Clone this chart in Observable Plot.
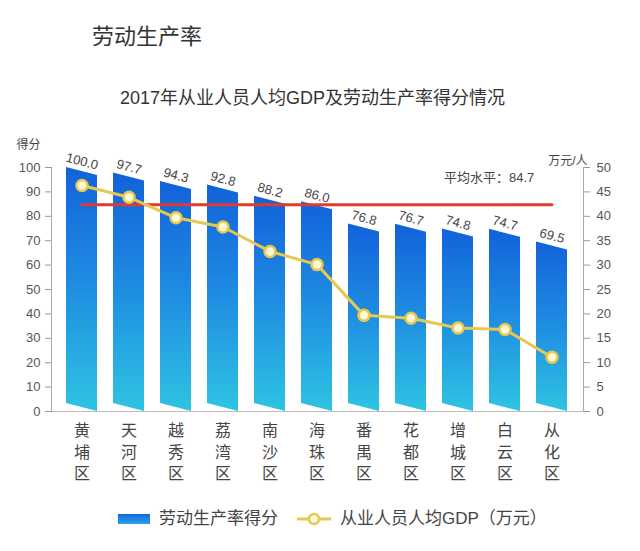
<!DOCTYPE html>
<html>
<head>
<meta charset="utf-8">
<script src="https://cdn.jsdelivr.net/npm/d3@7"></script>
<script src="https://cdn.jsdelivr.net/npm/@observablehq/plot@0.6"></script>
<style>
  html, body { margin: 0; padding: 0; background: #fff; }
  body { font-family: "Liberation Sans", "Noto Sans CJK SC", sans-serif; }
  #wrap { position: relative; width: 640px; height: 551px; overflow: hidden; }
  #title { position: absolute; left: 92px; top: 21px; font-size: 22px; line-height: 32px; color: #333; font-weight: 400; }
  #subtitle { position: absolute; left: 0; width: 625px; top: 86px; text-align: center; font-size: 18px; line-height: 24px; color: #333; }
  #chart { position: absolute; left: 0; top: 120px; }
  #legend { position: absolute; left: 0; top: 507px; width: 640px; height: 24px; font-size: 17px; color: #444; }
  .item { position: absolute; top: 0; height: 24px; line-height: 24px; white-space: nowrap; }
  .swatch { position: absolute; left: 118px; top: 7px; width: 32px; height: 10px; background: linear-gradient(#1464dc, #2aa6e6); }
</style>
</head>
<body>
<div id="wrap">
  <div id="title">劳动生产率</div>
  <div id="subtitle">2017年从业人员人均GDP及劳动生产率得分情况</div>
  <div id="chart"></div>
  <div id="legend">
    <div class="swatch"></div>
    <div class="item" style="left:159px">劳动生产率得分</div>
    <svg class="item" style="left:296px" width="36" height="24">
      <line x1="1" x2="35" y1="12" y2="12" stroke="#e6c84e" stroke-width="3"/>
      <circle cx="18" cy="12" r="5" fill="#fff8d8" stroke="#e6c84e" stroke-width="2.5"/>
    </svg>
    <div class="item" style="left:340px">从业人员人均GDP（万元）</div>
  </div>
</div>
<script>
const categories = ["黄埔区","天河区","越秀区","荔湾区","南沙区","海珠区","番禺区","花都区","增城区","白云区","从化区"];
const scores = [100.0, 97.7, 94.3, 92.8, 88.2, 86.0, 76.8, 76.7, 74.8, 74.7, 69.5];
const gdp = [46.3, 43.9, 39.7, 37.8, 32.8, 30.1, 19.7, 19.1, 17.1, 16.8, 11.1];
const average = 84.7;
const averageLabel = "平均水平：84.7";
const leftTicks = [0,10,20,30,40,50,60,70,80,90,100];
const rightTicks = [0,5,10,15,20,25,30,35,40,45,50];
const leftUnit = "得分";
const rightUnit = "万元/人";

const data = categories.map((c, i) => ({district: c, score: scores[i], gdp: gdp[i]}));
const ratio = 100 / 50; // right axis 0–50 shares the left axis 0–100 range

const defs = () => {
  const g = document.createElementNS("http://www.w3.org/2000/svg", "defs");
  g.innerHTML = `<linearGradient id="barGrad" x1="0" y1="0" x2="0" y2="1">
    <stop offset="0" stop-color="#1262da"/>
    <stop offset="0.5" stop-color="#1f8ee2"/>
    <stop offset="1" stop-color="#2ec4e2"/>
  </linearGradient>`;
  return g;
};

function slantBars(index, scales, values, dimensions, context, next) {
  const g = next(index, scales, values, dimensions, context);
  const s = 8;
  d3.select(g).selectAll("rect").each(function () {
    const r = d3.select(this);
    const x = +r.attr("x"), y = +r.attr("y"), w = +r.attr("width"), h = +r.attr("height");
    const p = document.createElementNS("http://www.w3.org/2000/svg", "path");
    p.setAttribute("d", `M${x},${y}L${x + w},${y + s}L${x + w},${y + h}L${x},${y + h - s}Z`);
    p.setAttribute("fill", r.attr("fill") || "url(#barGrad)");
    this.replaceWith(p);
  });
  return g;
}

const chart = Plot.plot({
  width: 640,
  height: 370,
  marginLeft: 51,
  marginRight: 57,
  marginTop: 47,
  marginBottom: 79,
  style: {fontFamily: '"Liberation Sans", "Noto Sans CJK SC", sans-serif', background: "transparent"},
  x: {domain: categories, paddingInner: 0.33, paddingOuter: 0.25, label: null},
  y: {domain: [0, 100], label: null},
  marks: [
    defs,
    Plot.barY(data, {x: "district", y: "score", fill: "url(#barGrad)", render: slantBars}),
    Plot.ruleY([0], {stroke: "#bbb", strokeWidth: 1.2}),
    Plot.frame({anchor: "left", stroke: "#aaa"}),
    Plot.frame({anchor: "right", stroke: "#aaa"}),
    Plot.axisY({ticks: leftTicks, tickSize: 6, tickPadding: 5, fontSize: 13, fill: "#555", stroke: "#999", label: null}),
    Plot.axisY({anchor: "right", ticks: rightTicks.map(t => t * ratio), tickFormat: d => d / ratio, tickSize: 6, tickPadding: 7, fontSize: 13, fill: "#555", stroke: "#999", label: null}),
    Plot.axisX({tickSize: 0, tickPadding: 9, fontSize: 16, fill: "#444", lineHeight: 1.36, tickFormat: d => d.split("").join("\n"), fontFamily: '"Noto Sans CJK SC", sans-serif', label: null}),
    Plot.lineY(categories, {x: d => d, y: () => average, stroke: "#e03b2c", strokeWidth: 3}),
    Plot.text(data, {x: "district", y: "score", text: d => d.score.toFixed(1), dy: -6, rotate: 15, fontSize: 13, fill: "#444"}),
    Plot.line(data, {x: "district", y: d => d.gdp * ratio, stroke: "#e6c84e", strokeWidth: 3}),
    Plot.dot(data, {x: "district", y: d => d.gdp * ratio, r: 5.5, fill: "#fff8d8", stroke: "#e6c84e", strokeWidth: 2.5}),
    Plot.text([averageLabel], {x: () => categories[8], frameAnchor: "top", text: d => d, dy: 5, textAnchor: "start", dx: -14, fontSize: 13, fill: "#444"}),
    Plot.text([leftUnit], {frameAnchor: "top-left", text: d => d, textAnchor: "end", dx: -11, dy: -27, fontSize: 12, fill: "#444"}),
    Plot.text([rightUnit], {frameAnchor: "top-right", text: d => d, textAnchor: "end", dx: 4, dy: -11, fontSize: 12, fill: "#444"})
  ]
});
document.getElementById("chart").appendChild(chart);
</script>
</body>
</html>
